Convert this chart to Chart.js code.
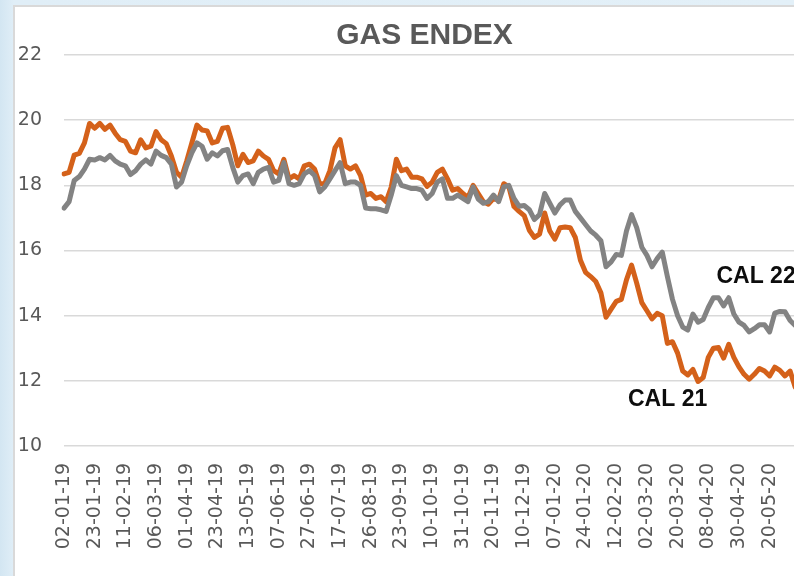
<!DOCTYPE html>
<html>
<head>
<meta charset="utf-8">
<script src="https://cdn.jsdelivr.net/npm/chart.js@4.4.1/dist/chart.umd.min.js"></script>
<style>
  html, body { margin:0; padding:0; width:794px; height:576px; overflow:hidden;
    background: linear-gradient(90deg, #d3e6f2 0px, #e0eef7 14px, #e3f0f8 100%); }
  #frame { position:absolute; left:13px; top:5px; width:900px; height:600px; background:#fff;
    border-left:2px solid #d9d9d9; border-top:2px solid #d9d9d9; }
  #wrap { position:absolute; left:0; top:0; width:818px; height:569px; }
</style>
</head>
<body>
<div id="frame"><div id="wrap"><canvas id="c" width="818" height="569"></canvas></div></div>
<script>
// Tick labels shown on the category axis (one every 6 sampled points)
const tickLabels = ['02-01-19','23-01-19','11-02-19','06-03-19','01-04-19','23-04-19','13-05-19',
  '07-06-19','27-06-19','17-07-19','26-08-19','23-09-19','10-10-19','31-10-19','20-11-19',
  '10-12-19','07-01-20','24-01-20','12-02-20','02-03-20','20-03-20','08-04-20','30-04-20','20-05-20'];
const pointsPerTick = 6;
const trailingCategories = 7; // axis continues past the visible crop

// CAL 21 (orange)
const cal21 = [
  18.35,18.4,18.93,18.98,19.3,19.9,19.75,19.9,19.72,19.85,19.6,19.4,
  19.35,19.05,19.0,19.4,19.15,19.2,19.65,19.4,19.28,18.9,18.4,18.25,
  18.75,19.3,19.85,19.7,19.67,19.3,19.35,19.75,19.78,19.25,18.6,18.95,
  18.7,18.75,19.05,18.9,18.8,18.45,18.35,18.8,18.2,18.3,18.2,18.6,
  18.65,18.5,18.05,18.05,18.45,19.15,19.4,18.6,18.5,18.6,18.3,17.7,
  17.75,17.6,17.65,17.5,17.95,18.8,18.45,18.5,18.25,18.25,18.2,17.97,
  18.1,18.4,18.5,18.2,17.85,17.9,17.75,17.62,18.0,17.75,17.5,17.42,
  17.6,17.55,18.05,17.95,17.35,17.2,17.07,16.62,16.4,16.5,17.15,16.6,
  16.35,16.7,16.72,16.7,16.4,15.7,15.33,15.2,15.05,14.7,13.95,14.2,
  14.44,14.5,15.1,15.55,15.0,14.4,14.15,13.9,14.07,14.0,13.15,13.2,
  12.85,12.3,12.18,12.35,11.98,12.1,12.72,13.0,13.02,12.7,13.12,12.72,
  12.43,12.2,12.05,12.2,12.38,12.3,12.15,12.42,12.32,12.15,12.3,11.8
];
// CAL 22 (grey)
const cal22 = [
  17.3,17.5,18.15,18.27,18.5,18.8,18.78,18.85,18.78,18.92,18.75,18.65,
  18.6,18.33,18.45,18.65,18.78,18.65,19.05,18.92,18.85,18.65,17.95,18.1,
  18.6,19.0,19.3,19.2,18.8,19.0,18.9,19.06,19.1,18.55,18.1,18.3,
  18.35,18.05,18.4,18.5,18.55,18.1,18.15,18.7,18.05,18.0,18.05,18.35,
  18.45,18.3,17.8,17.95,18.2,18.45,18.7,18.05,18.1,18.1,18.0,17.3,
  17.28,17.28,17.25,17.2,17.7,18.3,18.0,17.95,17.9,17.9,17.85,17.6,
  17.75,18.1,18.2,17.6,17.6,17.7,17.6,17.5,17.95,17.58,17.45,17.5,
  17.7,17.5,17.95,18.0,17.6,17.36,17.38,17.25,16.95,17.1,17.75,17.45,
  17.15,17.4,17.55,17.55,17.2,17.0,16.8,16.6,16.47,16.3,15.5,15.65,
  15.88,15.85,16.6,17.1,16.7,16.1,15.85,15.5,15.75,15.95,15.2,14.5,
  14.0,13.65,13.56,14.05,13.8,13.88,14.25,14.55,14.55,14.3,14.55,14.05,
  13.8,13.7,13.5,13.6,13.72,13.72,13.5,14.08,14.13,14.12,13.85,13.7
];
// Series labels placed in data space: [text, category index, value]
const seriesLabels = [['CAL 22', 127.6, 15.0], ['CAL 21', 110.3, 11.22]];

const categories = [];
tickLabels.forEach(l => { categories.push(l); for (let k = 1; k < pointsPerTick; k++) categories.push(''); });
for (let k = 0; k < trailingCategories; k++) categories.push('');

const labelPlugin = {
  id: 'seriesLabels',
  afterDatasetsDraw(chart) {
    const ctx = chart.ctx, xs = chart.scales.x, ys = chart.scales.y;
    ctx.save();
    ctx.font = 'bold 23px "Liberation Sans", Arial, sans-serif';
    ctx.fillStyle = '#0d0d0d';
    ctx.textAlign = 'left';
    ctx.textBaseline = 'alphabetic';
    seriesLabels.forEach(([t, i, v]) => {
      const x0 = xs.getPixelForValue(Math.floor(i)), x1 = xs.getPixelForValue(Math.floor(i) + 1);
      const x = x0 + (x1 - x0) * (i - Math.floor(i));
      ctx.fillText(t, x, ys.getPixelForValue(v));
    });
    ctx.restore();
  }
};

new Chart(document.getElementById('c'), {
  type: 'line',
  data: {
    labels: categories,
    datasets: [
      { label: 'CAL 22', data: cal22, borderColor: '#838383', borderWidth: 5, pointRadius: 0,
        tension: 0, borderJoinStyle: 'round', borderCapStyle: 'round' },
      { label: 'CAL 21', data: cal21, borderColor: '#d4611a', borderWidth: 5, pointRadius: 0,
        tension: 0, borderJoinStyle: 'round', borderCapStyle: 'round' }
    ]
  },
  options: {
    responsive: false,
    animation: false,
    layout: { autoPadding: false, padding: { left: 3, right: 2, top: 0, bottom: 0 } },
    plugins: {
      legend: { display: false },
      tooltip: { enabled: false },
      title: { display: true, text: 'GAS ENDEX', color: '#595959',
        font: { family: '"Liberation Sans", Arial, sans-serif', size: 30, weight: 'bold' },
        padding: { top: 11, bottom: 1 } }
    },
    scales: {
      x: {
        offset: false,
        grid: { display: false },
        border: { display: false },
        ticks: { autoSkip: false, minRotation: 90, maxRotation: 90, padding: 9, color: '#595959',
          font: { family: '"DejaVu Sans", sans-serif', size: 19 } },
        afterFit(s) { s.paddingLeft = 0; s.paddingRight = 0; s.height = 130; }
      },
      y: {
        min: 10, max: 22,
        grid: { color: '#d9d9d9', lineWidth: 1.5, drawTicks: false },
        border: { display: false },
        ticks: { stepSize: 2, padding: 22, color: '#595959',
          font: { family: '"DejaVu Sans", sans-serif', size: 19 } },
        afterFit(s) { s.width = 46; s.paddingTop = 0; s.paddingBottom = 0; }
      }
    }
  },
  plugins: [labelPlugin]
});
</script>
</body>
</html>
